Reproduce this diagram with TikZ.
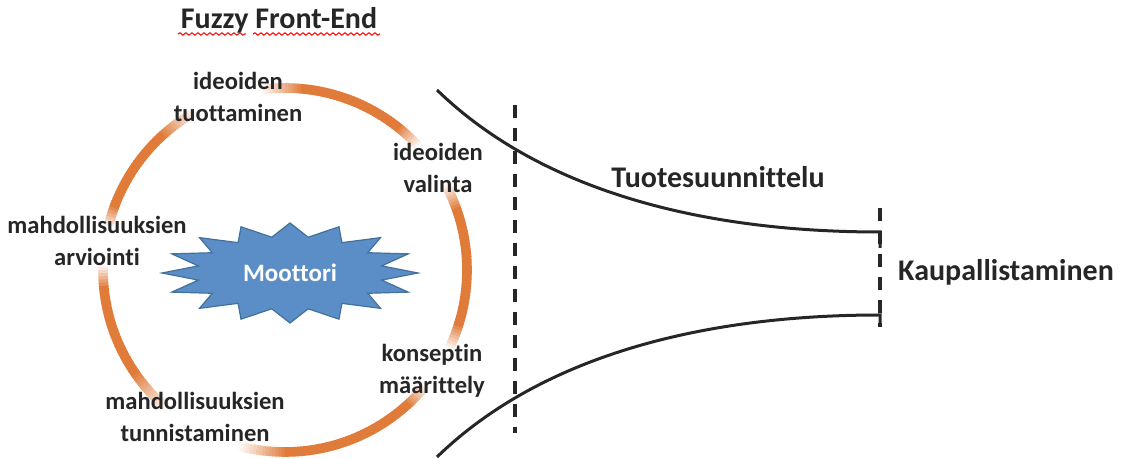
\documentclass[tikz,border=0pt]{standalone}
\usepackage{fontspec}
\setmainfont{Carlito}[Ligatures=NoCommon]
\usetikzlibrary{decorations.pathmorphing}
\definecolor{ringorange}{HTML}{E07B3A}
\definecolor{starblue}{HTML}{5B8EC7}
\definecolor{staredge}{HTML}{41719C}
\definecolor{ink}{HTML}{262626}
% fading of the ring around a label: angle, label centre, half width
\pgfmathdeclarefunction{fadeat}{3}{%
  \pgfmathparse{min(1,max(0,(abs(mod(#1-#2+540,360)-180)-0.45*#3)/(0.55*#3)))}}
\begin{document}
\begin{tikzpicture}[x=0.5pt,y=0.5pt,
  lbl/.style={font=\fontsize{12.3}{16}\selectfont\bfseries, text=ink, align=center, inner sep=0pt},
  ttl/.style={font=\fontsize{15}{18}\selectfont\bfseries, text=ink, inner sep=0pt},
  funnel/.style={line width=1.5pt, draw=ink},
  gate/.style={line width=1.8pt, draw=ink, dash pattern=on 6.5pt off 5pt},
  squiggle/.style={draw=red, line width=0.5pt, decorate,
    decoration={snake, segment length=3pt, amplitude=0.6pt}},
]
\useasboundingbox (0,0) rectangle (1127,459);

% orange cycle, fading out behind the stage labels
\foreach \t in {0,1,...,359}{
  \pgfmathsetmacro{\v}{100*min(fadeat(\t,108,24),fadeat(\t,35,16),fadeat(\t,172,13),fadeat(\t,327,15),fadeat(\t,242,28))}
  \draw[line width=4.8pt, color=ringorange!\v!white]
    ({285+182*cos(\t)},{189+182*sin(\t)}) arc[start angle=\t, end angle=\t+1.3, radius=182];
}

% sixteen-point star
\filldraw[fill=starblue, draw=staredge, line width=0.6pt]
  (418,186) \foreach \k in {1,...,31}{
    -- ({290+128*(1-0.27*mod(\k,2))*cos(\k*11.25)},{186+50*(1-0.27*mod(\k,2))*sin(\k*11.25)})
  } -- cycle;
\node[font=\fontsize{12.5}{15}\selectfont\bfseries, text=white, inner sep=0pt] (motor) at (290,186) {Moottori};

% title
\node[ttl] (ffe) at (279,439) {Fuzzy Front-End};
\draw[squiggle] (178,425) -- (246,425);
\draw[squiggle] (253,425) -- (380,425);

% stage labels
\node[lbl] (gen)  at (238,362) {ideoiden\\tuottaminen};
\node[lbl] (sel)  at (438,291) {ideoiden\\valinta};
\node[lbl] (eval) at (97,218)  {mahdollisuuksien\\arviointi};
\node[lbl] (conc) at (432,88)  {konseptin\\määrittely};
\node[lbl] (iden) at (195,42)  {mahdollisuuksien\\tunnistaminen};

% funnel
\coordinate (ua) at (437,369);
\coordinate (ub) at (880,227);
\coordinate (uc) at (880,211);
\coordinate (la) at (437,2);
\coordinate (lb) at (880,144);
\coordinate (lc) at (880,132);
\draw[funnel] (ua) .. controls (540,269) and (700,227) .. (ub) -- (uc);
\draw[funnel] (la) .. controls (540,102) and (700,144) .. (lb) -- (lc);

% phase gates
\coordinate (g1a) at (515,354);
\coordinate (g1b) at (515,26);
\coordinate (g2a) at (880,251);
\coordinate (g2b) at (880,132);
\draw[gate] (g1a) -- (g1b);
\draw[gate] (g2a) -- (g2b);

\node[ttl] (dev)  at (718,282)  {Tuotesuunnittelu};
\node[ttl] (comm) at (1006,187) {Kaupallistaminen};
\end{tikzpicture}
\end{document}
